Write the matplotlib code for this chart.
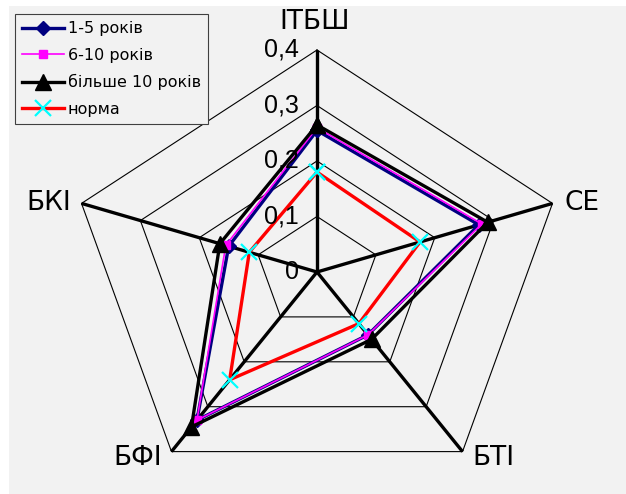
# encoding: utf-8
import numpy as np
import matplotlib.pyplot as plt
from matplotlib.lines import Line2D

plt.rcParams['font.family'] = ['Liberation Sans', 'DejaVu Sans']

categories = ['ІТБШ', 'СЕ', 'БТІ', 'БФІ', 'БКІ']
levels = [0, 0.1, 0.2, 0.3, 0.4]
level_labels = ['0', '0,1', '0,2', '0,3', '0,4']

y_1_5 = [0.255, 0.275, 0.14, 0.33, 0.15]
y_6_10 = [0.26, 0.28, 0.14, 0.33, 0.155]
y_10plus = [0.265, 0.29, 0.15, 0.345, 0.165]
norma = [0.18, 0.175, 0.115, 0.24, 0.115]

W, H = 626, 494
fig = plt.figure(figsize=(W / 100, H / 100), dpi=100)
fig.patch.set_facecolor('white')

# plot area (grey), centre of the radar sits at pixel (317, 272)
ax = fig.add_axes([9 / W, 0, (W - 9) / W, (H - 6) / H])
ax.set_facecolor('#f2f2f2')
sx = 619.0   # px per unit horizontally
sy = 555.0   # px per unit vertically
ax.set_xlim((9 - 317) / sx, (W - 317) / sx)
ax.set_ylim((272 - H) / sy, (272 - 6) / sy)
for s in ax.spines.values():
    s.set_visible(False)
ax.set_xticks([])
ax.set_yticks([])

n = len(categories)
ang = np.pi / 2 - 2 * np.pi * np.arange(n) / n
cx, cy = np.cos(ang), np.sin(ang)


def xy(vals):
    vals = np.asarray(vals)
    x = vals * cx
    y = vals * cy
    return np.append(x, x[0]), np.append(y, y[0])


# grid pentagons
for lv in levels[1:]:
    gx, gy = xy([lv] * n)
    ax.plot(gx, gy, color='black', lw=0.8, zorder=1)

# spokes
rmax = levels[-1]
for i in range(n):
    ax.plot([0, rmax * cx[i]], [0, rmax * cy[i]], color='black', lw=2.4,
            zorder=2, solid_capstyle='butt')

# scale labels along the top spoke
for lv, lab in zip(levels, level_labels):
    ax.annotate(lab, xy=(0, lv), xytext=(-18, 0), textcoords='offset pixels',
                ha='right', va='center', fontsize=18, zorder=5)

# category labels
offsets = [((-2, 28), 'center', 'center'),
           ((12, 0), 'left', 'center'),
           ((10, -6), 'left', 'center'),
           ((-9, -6), 'right', 'center'),
           ((-10, 0), 'right', 'center')]
for i, cat in enumerate(categories):
    (dx, dy), ha, va = offsets[i]
    ax.annotate(cat, xy=(rmax * cx[i], rmax * cy[i]), xytext=(dx, dy),
                textcoords='offset pixels', ha=ha, va=va, fontsize=19,
                family='DejaVu Sans', zorder=6)

# data series
x, y = xy(y_1_5)
l1, = ax.plot(x, y, color='#000080', lw=2.4, marker='D', ms=7,
              mfc='#000080', mec='#000080', zorder=3)
x, y = xy(y_6_10)
l2, = ax.plot(x, y, color='#ff00ff', lw=1.2, marker='s', ms=6,
              mfc='#ff00ff', mec='#ff00ff', zorder=3.1)
x, y = xy(y_10plus)
l3, = ax.plot(x, y, color='black', lw=2.4, marker='^', ms=11,
              mfc='black', mec='black', zorder=3.2)
x, y = xy(norma)
l4, = ax.plot(x, y, color='#ff0000', lw=2.4, marker='x', ms=11, mew=1.6,
              mec='#00ffff', zorder=3.3)

# top border of the plot area
fig.add_artist(Line2D([213 / W, 1], [1 - 16 / H, 1 - 16 / H], color='black',
                      lw=2, zorder=0))

leg = fig.legend([l1, l2, l3, l4],
                 ['1-5 років', '6-10 років', 'більше 10 років', 'норма'],
                 loc='upper left', bbox_to_anchor=(15 / W, 1 - 14 / H),
                 prop={'family': 'DejaVu Sans', 'size': 11.5},
                 frameon=True, fancybox=False, handlelength=2.6,
                 handletextpad=0.25, labelspacing=0.72, borderpad=0.45,
                 borderaxespad=0, framealpha=1)
leg.get_frame().set_facecolor('#f2f2f2')
leg.get_frame().set_edgecolor('#404040')
leg.get_frame().set_linewidth(0.8)

fig.savefig('out.png', dpi=100)
